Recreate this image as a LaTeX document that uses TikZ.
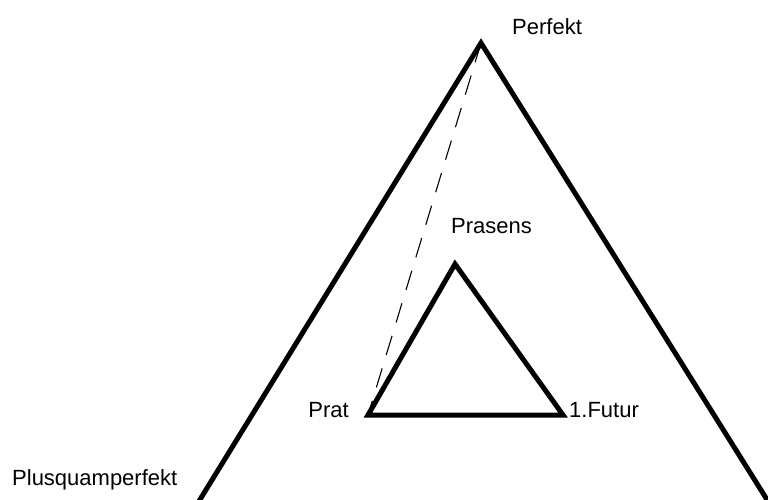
\documentclass[tikz,border=0pt]{standalone}
\usepackage{fontspec}
\setmainfont{Liberation Sans}
\usetikzlibrary{positioning}

\begin{document}
\begin{tikzpicture}[
  x=1pt, y=-1pt,
  lbl/.style={inner sep=0pt, font=\fontsize{22}{26}\selectfont},
  thickline/.style={line width=5pt},
  dashline/.style={line width=1.1pt, dash pattern=on 20pt off 14pt}
]
\useasboundingbox (0,0) rectangle (768,499);
\clip (0,0) rectangle (768,499);

% corners of the two triangles
\coordinate (perf) at (481,43);
\coordinate (outL) at (196,506);
\coordinate (outR) at (771,506);
\coordinate (praes) at (455,264);
\coordinate (prat) at (368,415);
\coordinate (fut) at (563,415);

% labels
\node[lbl, anchor=base west] (perflbl) at (512,34) {Perfekt};
\node[lbl, anchor=base west] (praeslbl) at (451,233) {Prasens};
\node[lbl, anchor=base east] (pratlbl) at (349,417) {Prat};
\node[lbl, anchor=base west] (futlbl) at (569,417) {1.Futur};
\node[lbl, anchor=base west] (plqlbl) at (12,485) {Plusquamperfekt};

\draw[thickline] (outL) -- (perf) -- (outR);
\draw[thickline] (prat) -- (praes) -- (fut) -- cycle;
\draw[dashline] (perf) -- (prat);
\end{tikzpicture}
\end{document}
